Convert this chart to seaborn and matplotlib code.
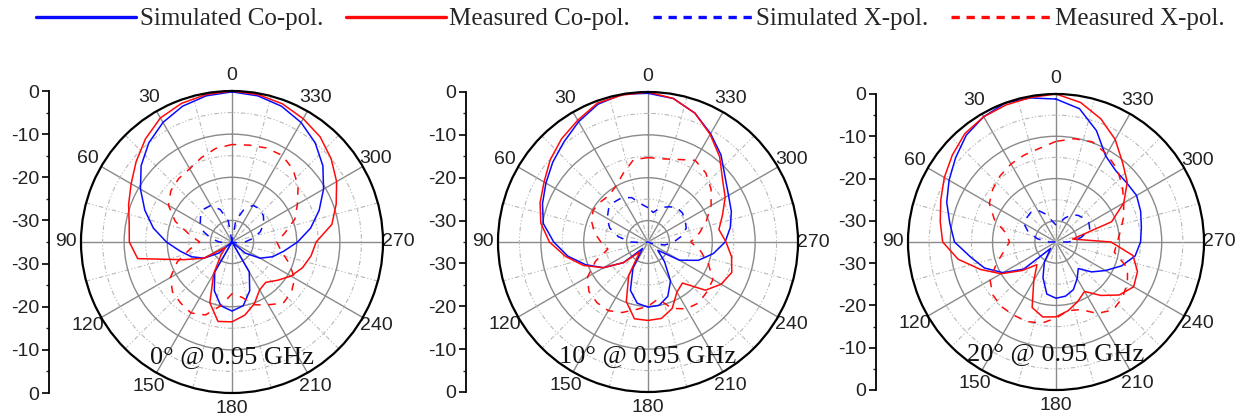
import numpy as np
import pandas as pd
import matplotlib
matplotlib.use("Agg")
import matplotlib.pyplot as plt
import seaborn as sns
from matplotlib.lines import Line2D
from matplotlib.ticker import FixedLocator

# angles in degrees (0 at top, counter-clockwise), gain in dB
angles = list(range(0, 360, 10))

series_names = ['Simulated Co-pol.', 'Measured Co-pol.', 'Simulated X-pol.', 'Measured X-pol.']
panel_titles = ['0° @ 0.95 GHz', '10° @ 0.95 GHz', '20° @ 0.95 GHz']

# ---- 0 deg
sim_co_0 = [-0.2, -0.6, -1.5, -3, -5, -7.5, -10.5, -13.5, -16.5, -19.8, -22.8, -25,
            -27.5, -31, -35, -27, -23, -20, -19, -20, -23, -27, -35, -31,
            -27.5, -25, -22.8, -19.8, -16.5, -13.5, -10.5, -7.5, -5, -3, -1.5, -0.6]
meas_co_0 = [0, -0.3, -0.8, -1.8, -3.8, -6, -8, -9.5, -10.8, -11.2, -12.8, -23,
             -27.5, -33, -31, -26.5, -20, -16.3, -16.5, -17.8, -19.8, -22.2, -22.8, -21.2,
             -19.2, -17.6, -16.4, -15.5, -11.5, -9.3, -7, -5, -3.2, -2, -0.9, -0.3]
sim_x_0 = [-35, -30, -27, -25.2, -25, -25.5, -26.5, -28, -30, -32, -34, -35,
           -35, -35, -35, -35, -35, -35, -35, -35, -35, -35, -35, -35,
           -35, -35, -34, -32, -30, -28, -26.5, -25.5, -25, -25.2, -27, -30]
meas_x_0 = [-12.4, -13, -14.2, -15.4, -15.8, -16.5, -18, -21, -25, -27.5, -25, -21.5,
            -18.5, -17, -16.5, -16, -17, -20, -23, -22, -19.5, -18.2, -16.5, -17,
            -18.2, -21, -23.5, -24.6, -22.5, -19.5, -17.5, -15, -13, -11.8, -11.8, -12.2]

# ---- 10 deg
sim_co_10 = [-0.3, 0, -0.8, -2.6, -4.5, -6, -7.5, -8.8, -10.2, -13, -16, -19.5,
             -23, -27.5, -33, -28, -23, -20.5, -19.8, -20, -21.5, -24.5, -29, -32,
             -26.5, -22.5, -19.5, -17, -15.5, -14.3, -13.3, -11.5, -8.5, -5.8, -3, -1]
meas_co_10 = [0, -0.2, -0.5, -2.2, -3.6, -5.2, -7, -8.2, -9.6, -12, -15.5, -19,
              -23, -27.5, -32, -26, -20.2, -16.8, -16.7, -16.9, -18.5, -21.5, -22.5, -17.5,
              -15.3, -14.2, -15.2, -16.8, -18.2, -16.5, -14.2, -12.3, -9, -6, -3, -1]
sim_x_10 = [-27, -26, -24, -23, -22.8, -23, -24, -25.5, -28, -31, -34, -35,
            -35, -35, -35, -35, -35, -35, -35, -35, -35, -35, -35, -35,
            -35, -34, -31, -29, -27, -25.5, -25, -24.5, -24.5, -25.5, -26.5, -28]
meas_x_10 = [-15.3, -15.5, -18, -20, -20.8, -20.5, -20.2, -21, -22.3, -24, -25.5, -22,
             -18.7, -17, -16.5, -16.5, -17.5, -19, -20, -21.5, -18.5, -17, -16.5, -17,
             -17.5, -20, -22.5, -25, -22.8, -20.5, -18, -15.8, -14, -13, -14.5, -15.3]

# ---- 20 deg
sim_co_20 = [-1.2, -0.4, 0, -0.8, -2, -4, -5.8, -7.5, -9.5, -11, -14.5, -17,
             -20.5, -25, -33, -29.5, -26, -22.5, -21.7, -22, -23, -25, -26.8, -24,
             -21.5, -18.5, -16, -15, -14.5, -13.7, -13, -13.2, -13, -11.5, -7, -3]
meas_co_20 = [0, -0.3, -0.5, -0.8, -1.5, -3, -4.5, -6, -7.2, -8.2, -11.5, -16,
              -20, -24.5, -28, -24.5, -18.5, -17, -17.3, -18.5, -20, -21.5, -18.5, -15.5,
              -13.8, -14.5, -16.5, -22, -31, -21, -16.5, -13, -10.5, -7, -4, -1.5]
sim_x_20 = [-31, -30, -28, -26.3, -25.8, -26, -26.2, -28, -30.5, -33, -35, -35,
            -35, -35, -35, -35, -35, -35, -35, -35, -35, -35, -35, -35,
            -35, -35, -35, -32, -29, -26.5, -26, -26.3, -26.8, -27.5, -29, -30.5]
meas_x_20 = [-11.2, -12.5, -13.1, -13.7, -14.5, -15.5, -16.8, -19.5, -23, -24, -22.5, -20,
             -17, -15.5, -15, -15, -15, -15.5, -17, -18.5, -18, -15.5, -14, -14.5,
             -15.5, -17, -21, -20.5, -19.5, -18, -16.5, -14.5, -12.5, -11, -9.8, -10.2]

theta_ticks = list(range(0, 360, 30))
left_tick_pos = [-35, -25, -15, -5, 5, 15, 25, 35]
left_tick_labels = ['0', '-10', '-20', '-30', '-30', '-20', '-10', '0']

colors = {'Simulated Co-pol.': '#0a0aff', 'Measured Co-pol.': '#ff0a0a',
          'Simulated X-pol.': '#0a0aff', 'Measured X-pol.': '#ff0a0a'}
dashes = {'Simulated Co-pol.': '', 'Measured Co-pol.': '',
          'Simulated X-pol.': (5, 5), 'Measured X-pol.': (5, 5)}

panel_data = [
    [sim_co_0, meas_co_0, sim_x_0, meas_x_0],
    [sim_co_10, meas_co_10, sim_x_10, meas_x_10],
    [sim_co_20, meas_co_20, sim_x_20, meas_x_20],
]

sns.set_theme(style="white")
plt.rcParams['font.family'] = ['Liberation Sans', 'DejaVu Sans']

W, H = 1253, 418
fig = plt.figure(figsize=(W / 100, H / 100), dpi=100)

# polar centre x, centre y, radius in pixels
boxes = [(232, 242, 151), (648, 242, 150), (1056, 242, 148)]


def make_frame(values):
    rows = []
    for name, vals in zip(series_names, values):
        closed_a = angles + [360]
        closed_v = list(vals) + [vals[0]]
        for a, v in zip(closed_a, closed_v):
            rows.append({'theta': np.deg2rad(a), 'dB': v, 'series': name})
    return pd.DataFrame(rows)


for (cx, cy, R), values, title in zip(boxes, panel_data, panel_titles):
    left = (cx - R) / W
    bottom = (H - (cy + R)) / H
    ax = fig.add_axes([left, bottom, 2 * R / W, 2 * R / H], projection='polar')
    ax.set_theta_zero_location('N')
    ax.set_theta_direction(1)

    df = make_frame(values)
    sns.lineplot(data=df, x='theta', y='dB', hue='series', style='series',
                 palette=colors, dashes=dashes, sort=False, estimator=None,
                 lw=1.1, legend=False, ax=ax)
    ax.set_xlim(0, 2 * np.pi)
    ax.set_ylim(-35, 0)
    ax.set_xlabel('')
    ax.set_ylabel('')

    ax.set_xticks(np.deg2rad(theta_ticks))
    ax.set_xticklabels([str(t) for t in theta_ticks])
    ax.xaxis.set_minor_locator(FixedLocator(np.deg2rad(np.arange(15, 360, 30))))
    ax.set_yticks([-30, -20, -10])
    ax.set_yticklabels([])
    ax.yaxis.set_minor_locator(FixedLocator([-25, -15, -5]))
    ax.grid(which='major', color='#8a8a8a', lw=1.0, ls='-')
    ax.grid(which='minor', color='#b8b8b8', lw=0.8, ls=(0, (4, 2, 1, 2, 1, 2)))
    ax.tick_params(axis='x', which='both', length=0, pad=4, labelsize=14, colors='#222222')
    ax.tick_params(axis='y', which='both', length=0)
    ax.spines['polar'].set_color('black')
    ax.spines['polar'].set_linewidth(1.6)

    ax.text(0.5, 0.12, title, transform=ax.transAxes, ha='center', va='center',
            fontsize=19, family='Liberation Serif', color='#111111')

    # linear dB scale on the left
    lax = fig.add_axes([(cx - R - 32) / W, bottom, 0.0004, 2 * R / H])
    lax.set_ylim(-35, 35)
    for s in ['top', 'right', 'bottom']:
        lax.spines[s].set_visible(False)
    lax.spines['left'].set_color('black')
    lax.spines['left'].set_linewidth(1.3)
    lax.set_xticks([])
    lax.set_yticks(left_tick_pos)
    lax.set_yticklabels(left_tick_labels)
    lax.yaxis.set_minor_locator(FixedLocator([-30, -20, -10, 0, 10, 20, 30]))
    lax.tick_params(axis='y', which='major', left=True, length=5, width=1.2, direction='out',
                    labelsize=14, pad=2, colors='black', labelcolor='#222222')
    lax.tick_params(axis='y', which='minor', left=True, length=2.5, width=1, direction='out')
    lax.patch.set_alpha(0)

handles = [Line2D([], [], color=colors[n], lw=2.4,
                  ls='-' if dashes[n] == '' else (0, (2.5, 2)))
           for n in series_names]
fig.legend(handles, series_names, loc='upper center', bbox_to_anchor=(0.503, 1.035),
           ncol=4, frameon=False, handlelength=4.0, handletextpad=0.15, columnspacing=0.9,
           prop={'family': 'Liberation Serif', 'size': 18})

fig.savefig('out.png', dpi=100)
